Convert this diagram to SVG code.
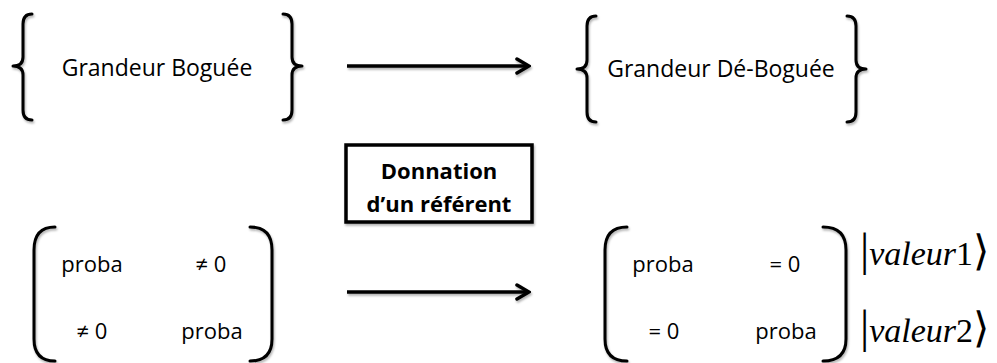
<svg xmlns="http://www.w3.org/2000/svg" width="997" height="363" viewBox="0 0 997 363">
  <style>
    .delim { fill: none; stroke: #000; stroke-width: 3; stroke-linecap: round; stroke-linejoin: round; filter: url(#shadow); }
    .lbl { font-family: "Open Sans", "Liberation Sans", sans-serif; font-size: 23px; fill: #000; text-anchor: middle; }
    .cell { font-family: "Open Sans", "Liberation Sans", sans-serif; font-size: 22px; fill: #000; text-anchor: middle; }
    .bold { font-family: "Open Sans", "Liberation Sans", sans-serif; font-size: 22px; font-weight: bold; fill: #000; text-anchor: middle; }
    .ket { font-family: "Liberation Serif", "DejaVu Serif", serif; font-size: 34px; fill: #000; }
    .conn { fill: none; stroke: #000; stroke-width: 3.5; marker-end: url(#arrow); filter: url(#shadow); }
  </style>
  <defs>
    <filter id="shadow" filterUnits="userSpaceOnUse" x="0" y="0" width="997" height="363">
      <feDropShadow dx="1" dy="2" stdDeviation="1.2" flood-color="#000" flood-opacity="0.3"/>
    </filter>
    <marker id="arrow" viewBox="0 0 16 18" refX="14" refY="9" markerWidth="16" markerHeight="18" markerUnits="userSpaceOnUse" orient="auto">
      <path d="M2,2 L14,9 L2,16" fill="none" stroke="#000" stroke-width="3.5" stroke-linecap="round" stroke-linejoin="miter"/>
    </marker>
  </defs>

  <rect width="997" height="363" fill="#fff"/>

  <g id="node-grandeur-boguee">
    <path class="delim" d="M32,14 Q23,14 23,24 L23,57 Q23,66 13,66 Q23,66 23,75 L23,110 Q23,120 32,120"/>
    <path class="delim" d="M283,14 Q292,14 292,24 L292,57 Q292,66 302,66 Q292,66 292,75 L292,110 Q292,120 283,120"/>
    <text class="lbl" x="157" y="76">Grandeur Boguée</text>
  </g>

  <g id="node-grandeur-debogue">
    <path class="delim" d="M596,16 Q587,16 587,26 L587,60 Q587,69 577,69 Q587,69 587,78 L587,112 Q587,122 596,122"/>
    <path class="delim" d="M847,16 Q856,16 856,26 L856,60 Q856,69 866,69 Q856,69 856,78 L856,112 Q856,122 847,122"/>
    <text class="lbl" x="721" y="77">Grandeur Dé-Boguée</text>
  </g>

  <g id="node-donnation">
    <rect x="346" y="145" width="186" height="77" fill="#fff" stroke="#000" stroke-width="3.5" filter="url(#shadow)"/>
    <text class="bold" x="439" y="179">Donnation</text>
    <text class="bold" x="439" y="212">d’un référent</text>
  </g>

  <g id="node-matrice-initiale">
    <path class="delim" d="M55,227 Q34,227 34,250 L34,339 Q34,361 55,361"/>
    <path class="delim" d="M250,227 Q272,227 272,250 L272,339 Q272,361 250,361"/>
    <text class="cell" x="92" y="272">proba</text>
    <text class="cell" x="211" y="272">≠ 0</text>
    <text class="cell" x="92" y="339">≠ 0</text>
    <text class="cell" x="212" y="339">proba</text>
  </g>

  <g id="node-matrice-finale">
    <path class="delim" d="M627,227 Q605,227 605,250 L605,339 Q605,361 627,361"/>
    <path class="delim" d="M823,227 Q846,227 846,250 L846,339 Q846,361 823,361"/>
    <text class="cell" x="663" y="272">proba</text>
    <text class="cell" x="785" y="272">= 0</text>
    <text class="cell" x="664" y="339">= 0</text>
    <text class="cell" x="786" y="339">proba</text>
  </g>

  <g id="node-kets">
    <text class="ket" x="860" y="265"><tspan font-size="46">|</tspan><tspan font-style="italic">valeur</tspan>1<tspan font-family="DejaVu Sans, sans-serif" font-size="42" font-weight="200">⟩</tspan></text>
    <text class="ket" x="860" y="342"><tspan font-size="46">|</tspan><tspan font-style="italic">valeur</tspan>2<tspan font-family="DejaVu Sans, sans-serif" font-size="42" font-weight="200">⟩</tspan></text>
  </g>

  <g id="connectors">
    <line class="conn" x1="347" y1="66" x2="529" y2="66"/>
    <line class="conn" x1="347" y1="292" x2="529" y2="292"/>
  </g>
</svg>
